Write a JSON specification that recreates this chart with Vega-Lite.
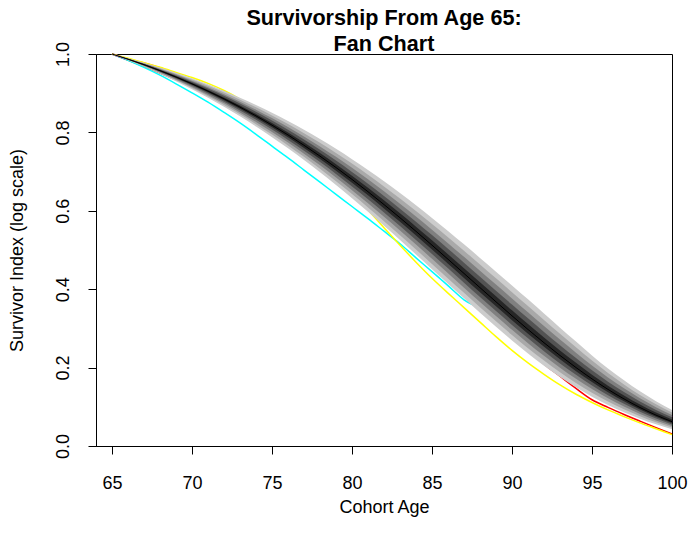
{
  "$schema": "https://vega.github.io/schema/vega-lite/v6.json",
  "width": 576,
  "height": 392,
  "autosize": "none",
  "padding": {"left": 96, "top": 54, "right": 20, "bottom": 91},
  "background": "white",
  "title": {
    "text": ["Survivorship From Age 65:", "Fan Chart"],
    "font": "Liberation Sans",
    "fontSize": 21.6,
    "fontWeight": "bold",
    "color": "#000000",
    "lineHeight": 26.5,
    "baseline": "bottom",
    "anchor": "middle",
    "frame": "group",
    "offset": -2,
    "dy": 34.5
  },
  "datasets": {
    "fan": [
      {"age": 65, "med": 1, "lo1": 1, "hi1": 1, "lo2": 1, "hi2": 1, "lo3": 1, "hi3": 1, "lo4": 1, "hi4": 1, "lo5": 1, "hi5": 1},
      {"age": 66, "med": 0.9868, "lo1": 0.9843, "hi1": 0.9893, "lo2": 0.9848, "hi2": 0.9888, "lo3": 0.9854, "hi3": 0.9882, "lo4": 0.9859, "hi4": 0.9877, "lo5": 0.9863, "hi5": 0.9873},
      {"age": 67, "med": 0.9727, "lo1": 0.9676, "hi1": 0.9778, "lo2": 0.9687, "hi2": 0.9767, "lo3": 0.9698, "hi3": 0.9756, "lo4": 0.9708, "hi4": 0.9746, "lo5": 0.9718, "hi5": 0.9736},
      {"age": 68, "med": 0.9575, "lo1": 0.9496, "hi1": 0.9654, "lo2": 0.9513, "hi2": 0.9637, "lo3": 0.9530, "hi3": 0.9620, "lo4": 0.9546, "hi4": 0.9604, "lo5": 0.9561, "hi5": 0.9589},
      {"age": 69, "med": 0.9413, "lo1": 0.9305, "hi1": 0.9522, "lo2": 0.9329, "hi2": 0.9498, "lo3": 0.9351, "hi3": 0.9475, "lo4": 0.9373, "hi4": 0.9453, "lo5": 0.9394, "hi5": 0.9433},
      {"age": 70, "med": 0.9239, "lo1": 0.9101, "hi1": 0.9379, "lo2": 0.9131, "hi2": 0.9348, "lo3": 0.9160, "hi3": 0.9319, "lo4": 0.9188, "hi4": 0.9291, "lo5": 0.9214, "hi5": 0.9264},
      {"age": 71, "med": 0.9053, "lo1": 0.8884, "hi1": 0.9226, "lo2": 0.8921, "hi2": 0.9188, "lo3": 0.8957, "hi3": 0.9152, "lo4": 0.8990, "hi4": 0.9117, "lo5": 0.9023, "hi5": 0.9084},
      {"age": 72, "med": 0.8856, "lo1": 0.8654, "hi1": 0.9063, "lo2": 0.8698, "hi2": 0.9017, "lo3": 0.8741, "hi3": 0.8974, "lo4": 0.8781, "hi4": 0.8933, "lo5": 0.8820, "hi5": 0.8893},
      {"age": 73, "med": 0.8645, "lo1": 0.8409, "hi1": 0.8887, "lo2": 0.8461, "hi2": 0.8834, "lo3": 0.8510, "hi3": 0.8783, "lo4": 0.8558, "hi4": 0.8735, "lo5": 0.8603, "hi5": 0.8689},
      {"age": 74, "med": 0.8422, "lo1": 0.8152, "hi1": 0.8701, "lo2": 0.8211, "hi2": 0.8640, "lo3": 0.8268, "hi3": 0.8581, "lo4": 0.8322, "hi4": 0.8525, "lo5": 0.8373, "hi5": 0.8472},
      {"age": 75, "med": 0.8185, "lo1": 0.7879, "hi1": 0.8503, "lo2": 0.7946, "hi2": 0.8433, "lo3": 0.8011, "hi3": 0.8366, "lo4": 0.8072, "hi4": 0.8303, "lo5": 0.8130, "hi5": 0.8242},
      {"age": 76, "med": 0.7935, "lo1": 0.7594, "hi1": 0.8292, "lo2": 0.7669, "hi2": 0.8213, "lo3": 0.7741, "hi3": 0.8138, "lo4": 0.7809, "hi4": 0.8067, "lo5": 0.7874, "hi5": 0.7999},
      {"age": 77, "med": 0.7671, "lo1": 0.7294, "hi1": 0.8067, "lo2": 0.7377, "hi2": 0.7980, "lo3": 0.7456, "hi3": 0.7897, "lo4": 0.7532, "hi4": 0.7818, "lo5": 0.7603, "hi5": 0.7742},
      {"age": 78, "med": 0.7394, "lo1": 0.6982, "hi1": 0.7831, "lo2": 0.7073, "hi2": 0.7735, "lo3": 0.7159, "hi3": 0.7643, "lo4": 0.7242, "hi4": 0.7556, "lo5": 0.7320, "hi5": 0.7473},
      {"age": 79, "med": 0.7104, "lo1": 0.6657, "hi1": 0.7581, "lo2": 0.6755, "hi2": 0.7476, "lo3": 0.6849, "hi3": 0.7376, "lo4": 0.6939, "hi4": 0.7280, "lo5": 0.7024, "hi5": 0.7190},
      {"age": 80, "med": 0.6801, "lo1": 0.6321, "hi1": 0.7318, "lo2": 0.6427, "hi2": 0.7204, "lo3": 0.6527, "hi3": 0.7096, "lo4": 0.6623, "hi4": 0.6992, "lo5": 0.6715, "hi5": 0.6894},
      {"age": 81, "med": 0.6486, "lo1": 0.5974, "hi1": 0.7042, "lo2": 0.6087, "hi2": 0.6920, "lo3": 0.6194, "hi3": 0.6803, "lo4": 0.6297, "hi4": 0.6692, "lo5": 0.6394, "hi5": 0.6586},
      {"age": 82, "med": 0.6159, "lo1": 0.5617, "hi1": 0.6753, "lo2": 0.5736, "hi2": 0.6622, "lo3": 0.5850, "hi3": 0.6498, "lo4": 0.5958, "hi4": 0.6379, "lo5": 0.6061, "hi5": 0.6266},
      {"age": 83, "med": 0.5822, "lo1": 0.5253, "hi1": 0.6452, "lo2": 0.5378, "hi2": 0.6313, "lo3": 0.5498, "hi3": 0.6181, "lo4": 0.5611, "hi4": 0.6055, "lo5": 0.5720, "hi5": 0.5935},
      {"age": 84, "med": 0.5476, "lo1": 0.4884, "hi1": 0.6140, "lo2": 0.5014, "hi2": 0.5994, "lo3": 0.5139, "hi3": 0.5854, "lo4": 0.5257, "hi4": 0.5722, "lo5": 0.5369, "hi5": 0.5596},
      {"age": 85, "med": 0.5123, "lo1": 0.4512, "hi1": 0.5817, "lo2": 0.4646, "hi2": 0.5664, "lo3": 0.4775, "hi3": 0.5519, "lo4": 0.4897, "hi4": 0.5380, "lo5": 0.5013, "hi5": 0.5248},
      {"age": 86, "med": 0.4764, "lo1": 0.4138, "hi1": 0.5485, "lo2": 0.4276, "hi2": 0.5326, "lo3": 0.4407, "hi3": 0.5175, "lo4": 0.4532, "hi4": 0.5031, "lo5": 0.4651, "hi5": 0.4894},
      {"age": 87, "med": 0.4402, "lo1": 0.3767, "hi1": 0.5145, "lo2": 0.3907, "hi2": 0.4982, "lo3": 0.4040, "hi3": 0.4826, "lo4": 0.4167, "hi4": 0.4677, "lo5": 0.4288, "hi5": 0.4536},
      {"age": 88, "med": 0.4039, "lo1": 0.3400, "hi1": 0.4798, "lo2": 0.3541, "hi2": 0.4631, "lo3": 0.3675, "hi3": 0.4472, "lo4": 0.3803, "hi4": 0.4320, "lo5": 0.3924, "hi5": 0.4176},
      {"age": 89, "med": 0.3678, "lo1": 0.3041, "hi1": 0.4448, "lo2": 0.3181, "hi2": 0.4279, "lo3": 0.3315, "hi3": 0.4117, "lo4": 0.3442, "hi4": 0.3963, "lo5": 0.3563, "hi5": 0.3817},
      {"age": 90, "med": 0.3321, "lo1": 0.2693, "hi1": 0.4095, "lo2": 0.2831, "hi2": 0.3925, "lo3": 0.2963, "hi3": 0.3762, "lo4": 0.3089, "hi4": 0.3607, "lo5": 0.3208, "hi5": 0.3460},
      {"age": 91, "med": 0.2972, "lo1": 0.2360, "hi1": 0.3743, "lo2": 0.2495, "hi2": 0.3573, "lo3": 0.2623, "hi3": 0.3411, "lo4": 0.2746, "hi4": 0.3257, "lo5": 0.2862, "hi5": 0.3111},
      {"age": 92, "med": 0.2634, "lo1": 0.2050, "hi1": 0.3380, "lo2": 0.2178, "hi2": 0.3216, "lo3": 0.2301, "hi3": 0.3059, "lo4": 0.2418, "hi4": 0.2910, "lo5": 0.2529, "hi5": 0.2768},
      {"age": 93, "med": 0.2309, "lo1": 0.1761, "hi1": 0.3019, "lo2": 0.1882, "hi2": 0.2863, "lo3": 0.1997, "hi3": 0.2714, "lo4": 0.2106, "hi4": 0.2572, "lo5": 0.2210, "hi5": 0.2437},
      {"age": 94, "med": 0.2001, "lo1": 0.1498, "hi1": 0.2665, "lo2": 0.1609, "hi2": 0.2519, "lo3": 0.1714, "hi3": 0.2379, "lo4": 0.1815, "hi4": 0.2247, "lo5": 0.1910, "hi5": 0.2121},
      {"age": 95, "med": 0.1712, "lo1": 0.1259, "hi1": 0.2311, "lo2": 0.1359, "hi2": 0.2179, "lo3": 0.1454, "hi3": 0.2053, "lo4": 0.1544, "hi4": 0.1934, "lo5": 0.1630, "hi5": 0.1820},
      {"age": 96, "med": 0.1444, "lo1": 0.1047, "hi1": 0.1979, "lo2": 0.1134, "hi2": 0.1861, "lo3": 0.1218, "hi3": 0.1749, "lo4": 0.1297, "hi4": 0.1642, "lo5": 0.1373, "hi5": 0.1540},
      {"age": 97, "med": 0.1201, "lo1": 0.0861, "hi1": 0.1675, "lo2": 0.0936, "hi2": 0.1571, "lo3": 0.1007, "hi3": 0.1471, "lo4": 0.1075, "hi4": 0.1376, "lo5": 0.1140, "hi5": 0.1286},
      {"age": 98, "med": 0.0982, "lo1": 0.0695, "hi1": 0.1394, "lo2": 0.0758, "hi2": 0.1303, "lo3": 0.0818, "hi3": 0.1217, "lo4": 0.0876, "hi4": 0.1134, "lo5": 0.0930, "hi5": 0.1056},
      {"age": 99, "med": 0.0788, "lo1": 0.0552, "hi1": 0.1142, "lo2": 0.0604, "hi2": 0.1064, "lo3": 0.0653, "hi3": 0.0990, "lo4": 0.0701, "hi4": 0.0919, "lo5": 0.0746, "hi5": 0.0852},
      {"age": 100, "med": 0.0621, "lo1": 0.0430, "hi1": 0.0919, "lo2": 0.0472, "hi2": 0.0853, "lo3": 0.0512, "hi3": 0.0791, "lo4": 0.0550, "hi4": 0.0731, "lo5": 0.0587, "hi5": 0.0675}
    ],
    "paths": [
      {"age": 65, "series": "red", "value": 1.0},
      {"age": 70, "series": "red", "value": 0.915},
      {"age": 75, "series": "red", "value": 0.800},
      {"age": 80, "series": "red", "value": 0.645},
      {"age": 85, "series": "red", "value": 0.458},
      {"age": 87, "series": "red", "value": 0.386},
      {"age": 88, "series": "red", "value": 0.350},
      {"age": 89, "series": "red", "value": 0.314},
      {"age": 90, "series": "red", "value": 0.278},
      {"age": 91, "series": "red", "value": 0.243},
      {"age": 92, "series": "red", "value": 0.209},
      {"age": 93, "series": "red", "value": 0.178},
      {"age": 94, "series": "red", "value": 0.147},
      {"age": 95, "series": "red", "value": 0.118},
      {"age": 96, "series": "red", "value": 0.0985},
      {"age": 97, "series": "red", "value": 0.0805},
      {"age": 98, "series": "red", "value": 0.0635},
      {"age": 99, "series": "red", "value": 0.047},
      {"age": 100, "series": "red", "value": 0.031},

      {"age": 65, "series": "green", "value": 1.0},
      {"age": 66, "series": "green", "value": 0.9855},
      {"age": 67, "series": "green", "value": 0.970},
      {"age": 68, "series": "green", "value": 0.953},
      {"age": 69, "series": "green", "value": 0.9355},
      {"age": 70, "series": "green", "value": 0.917},
      {"age": 75, "series": "green", "value": 0.802},
      {"age": 80, "series": "green", "value": 0.655},
      {"age": 85, "series": "green", "value": 0.478},
      {"age": 90, "series": "green", "value": 0.300},
      {"age": 95, "series": "green", "value": 0.150},
      {"age": 100, "series": "green", "value": 0.050},

      {"age": 65, "series": "blue", "value": 1.0},
      {"age": 66, "series": "blue", "value": 0.9868},
      {"age": 67, "series": "blue", "value": 0.9727},
      {"age": 68, "series": "blue", "value": 0.9575},
      {"age": 69, "series": "blue", "value": 0.9413},
      {"age": 70, "series": "blue", "value": 0.9239},
      {"age": 75, "series": "blue", "value": 0.8185},
      {"age": 80, "series": "blue", "value": 0.6801},
      {"age": 85, "series": "blue", "value": 0.5123},
      {"age": 90, "series": "blue", "value": 0.3321},
      {"age": 95, "series": "blue", "value": 0.1712},
      {"age": 100, "series": "blue", "value": 0.0621},

      {"age": 65, "series": "cyan", "value": 1.0},
      {"age": 66, "series": "cyan", "value": 0.984},
      {"age": 67, "series": "cyan", "value": 0.966},
      {"age": 68, "series": "cyan", "value": 0.946},
      {"age": 69, "series": "cyan", "value": 0.924},
      {"age": 70, "series": "cyan", "value": 0.901},
      {"age": 71, "series": "cyan", "value": 0.877},
      {"age": 72, "series": "cyan", "value": 0.851},
      {"age": 73, "series": "cyan", "value": 0.824},
      {"age": 74, "series": "cyan", "value": 0.795},
      {"age": 75, "series": "cyan", "value": 0.765},
      {"age": 76, "series": "cyan", "value": 0.735},
      {"age": 77, "series": "cyan", "value": 0.704},
      {"age": 78, "series": "cyan", "value": 0.673},
      {"age": 79, "series": "cyan", "value": 0.642},
      {"age": 80, "series": "cyan", "value": 0.611},
      {"age": 81, "series": "cyan", "value": 0.580},
      {"age": 82, "series": "cyan", "value": 0.548},
      {"age": 83, "series": "cyan", "value": 0.516},
      {"age": 84, "series": "cyan", "value": 0.480},
      {"age": 85, "series": "cyan", "value": 0.445},
      {"age": 86, "series": "cyan", "value": 0.409},
      {"age": 87, "series": "cyan", "value": 0.373},
      {"age": 88, "series": "cyan", "value": 0.350},
      {"age": 89, "series": "cyan", "value": 0.318},
      {"age": 90, "series": "cyan", "value": 0.286},
      {"age": 91, "series": "cyan", "value": 0.254},
      {"age": 92, "series": "cyan", "value": 0.224},
      {"age": 93, "series": "cyan", "value": 0.195},
      {"age": 94, "series": "cyan", "value": 0.168},
      {"age": 95, "series": "cyan", "value": 0.143},
      {"age": 96, "series": "cyan", "value": 0.120},
      {"age": 97, "series": "cyan", "value": 0.100},
      {"age": 98, "series": "cyan", "value": 0.083},
      {"age": 99, "series": "cyan", "value": 0.067},
      {"age": 100, "series": "cyan", "value": 0.053},

      {"age": 65, "series": "magenta", "value": 1.0},
      {"age": 66, "series": "magenta", "value": 0.9872},
      {"age": 67, "series": "magenta", "value": 0.9770},
      {"age": 68, "series": "magenta", "value": 0.9650},
      {"age": 69, "series": "magenta", "value": 0.9500},
      {"age": 70, "series": "magenta", "value": 0.932},
      {"age": 75, "series": "magenta", "value": 0.838},
      {"age": 80, "series": "magenta", "value": 0.710},
      {"age": 85, "series": "magenta", "value": 0.540},
      {"age": 90, "series": "magenta", "value": 0.370},
      {"age": 95, "series": "magenta", "value": 0.200},
      {"age": 100, "series": "magenta", "value": 0.075},

      {"age": 65, "series": "yellow", "value": 1.0},
      {"age": 66, "series": "yellow", "value": 0.989},
      {"age": 67, "series": "yellow", "value": 0.978},
      {"age": 68, "series": "yellow", "value": 0.966},
      {"age": 69, "series": "yellow", "value": 0.953},
      {"age": 70, "series": "yellow", "value": 0.940},
      {"age": 71, "series": "yellow", "value": 0.925},
      {"age": 72, "series": "yellow", "value": 0.907},
      {"age": 73, "series": "yellow", "value": 0.885},
      {"age": 74, "series": "yellow", "value": 0.859},
      {"age": 75, "series": "yellow", "value": 0.830},
      {"age": 76, "series": "yellow", "value": 0.798},
      {"age": 77, "series": "yellow", "value": 0.764},
      {"age": 78, "series": "yellow", "value": 0.727},
      {"age": 79, "series": "yellow", "value": 0.688},
      {"age": 80, "series": "yellow", "value": 0.646},
      {"age": 81, "series": "yellow", "value": 0.602},
      {"age": 82, "series": "yellow", "value": 0.557},
      {"age": 83, "series": "yellow", "value": 0.512},
      {"age": 84, "series": "yellow", "value": 0.469},
      {"age": 85, "series": "yellow", "value": 0.428},
      {"age": 86, "series": "yellow", "value": 0.390},
      {"age": 87, "series": "yellow", "value": 0.353},
      {"age": 88, "series": "yellow", "value": 0.316},
      {"age": 89, "series": "yellow", "value": 0.279},
      {"age": 90, "series": "yellow", "value": 0.244},
      {"age": 91, "series": "yellow", "value": 0.212},
      {"age": 92, "series": "yellow", "value": 0.183},
      {"age": 93, "series": "yellow", "value": 0.156},
      {"age": 94, "series": "yellow", "value": 0.132},
      {"age": 95, "series": "yellow", "value": 0.111},
      {"age": 96, "series": "yellow", "value": 0.092},
      {"age": 97, "series": "yellow", "value": 0.075},
      {"age": 98, "series": "yellow", "value": 0.059},
      {"age": 99, "series": "yellow", "value": 0.044},
      {"age": 100, "series": "yellow", "value": 0.029}
    ]
  },
  "encoding": {
    "x": {
      "field": "age",
      "type": "quantitative",
      "title": "Cohort Age",
      "scale": {"domain": [64, 100], "nice": false, "zero": false},
      "axis": {"values": [65, 70, 75, 80, 85, 90, 95, 100]}
    }
  },
  "layer": [
    {
      "data": {"name": "paths"},
      "mark": {"type": "line", "strokeWidth": 1.5, "interpolate": "monotone"},
      "encoding": {
        "y": {
          "field": "value",
          "type": "quantitative",
          "title": "Survivor Index (log scale)",
          "scale": {"domain": [0, 1], "nice": false, "zero": false},
          "axis": {"values": [0, 0.2, 0.4, 0.6, 0.8, 1.0], "format": ".1f"}
        },
        "color": {
          "field": "series",
          "type": "nominal",
          "scale": {
            "domain": ["red", "green", "blue", "cyan", "magenta", "yellow"],
            "range": ["#FF0000", "#00CD00", "#0000FF", "#00FFFF", "#FF00FF", "#FFFF00"]
          },
          "legend": null
        }
      }
    },
    {
      "data": {"name": "fan"},
      "mark": {"type": "area", "color": "#cccccc", "interpolate": "monotone"},
      "encoding": {
        "y": {"field": "lo1", "type": "quantitative", "title": "Survivor Index (log scale)"},
        "y2": {"field": "hi1"}
      }
    },
    {
      "data": {"name": "fan"},
      "mark": {"type": "area", "color": "#a9a9a9", "interpolate": "monotone"},
      "encoding": {
        "y": {"field": "lo2", "type": "quantitative", "title": "Survivor Index (log scale)"},
        "y2": {"field": "hi2"}
      }
    },
    {
      "data": {"name": "fan"},
      "mark": {"type": "area", "color": "#808080", "interpolate": "monotone"},
      "encoding": {
        "y": {"field": "lo3", "type": "quantitative", "title": "Survivor Index (log scale)"},
        "y2": {"field": "hi3"}
      }
    },
    {
      "data": {"name": "fan"},
      "mark": {"type": "area", "color": "#535353", "interpolate": "monotone"},
      "encoding": {
        "y": {"field": "lo4", "type": "quantitative", "title": "Survivor Index (log scale)"},
        "y2": {"field": "hi4"}
      }
    },
    {
      "data": {"name": "fan"},
      "mark": {"type": "area", "color": "#262626", "interpolate": "monotone"},
      "encoding": {
        "y": {"field": "lo5", "type": "quantitative", "title": "Survivor Index (log scale)"},
        "y2": {"field": "hi5"}
      }
    },
    {
      "data": {"name": "fan"},
      "mark": {"type": "line", "color": "#000000", "strokeWidth": 1, "interpolate": "monotone"},
      "encoding": {
        "y": {"field": "med", "type": "quantitative", "title": "Survivor Index (log scale)"}
      }
    }
  ],
  "config": {
    "view": {"stroke": "#000000", "strokeWidth": 1},
    "axis": {
      "grid": false,
      "domainColor": "#000000",
      "domainWidth": 1,
      "tickColor": "#000000",
      "tickWidth": 1,
      "tickSize": 8,
      "labelFont": "Liberation Sans",
      "labelFontSize": 18,
      "labelColor": "#000000",
      "titleFont": "Liberation Sans",
      "titleFontSize": 18,
      "titleFontWeight": "normal",
      "titleColor": "#000000"
    },
    "axisX": {
      "labelPadding": 20,
      "labelFlush": false,
      "titleX": 288,
      "titleY": 66,
      "titleAlign": "center",
      "titleBaseline": "alphabetic"
    },
    "axisY": {
      "labelAngle": 270,
      "labelAlign": "center",
      "labelBaseline": "middle",
      "labelPadding": 25,
      "titleAngle": 270,
      "titleX": -79,
      "titleY": 196,
      "titleAlign": "center",
      "titleBaseline": "middle"
    }
  }
}
